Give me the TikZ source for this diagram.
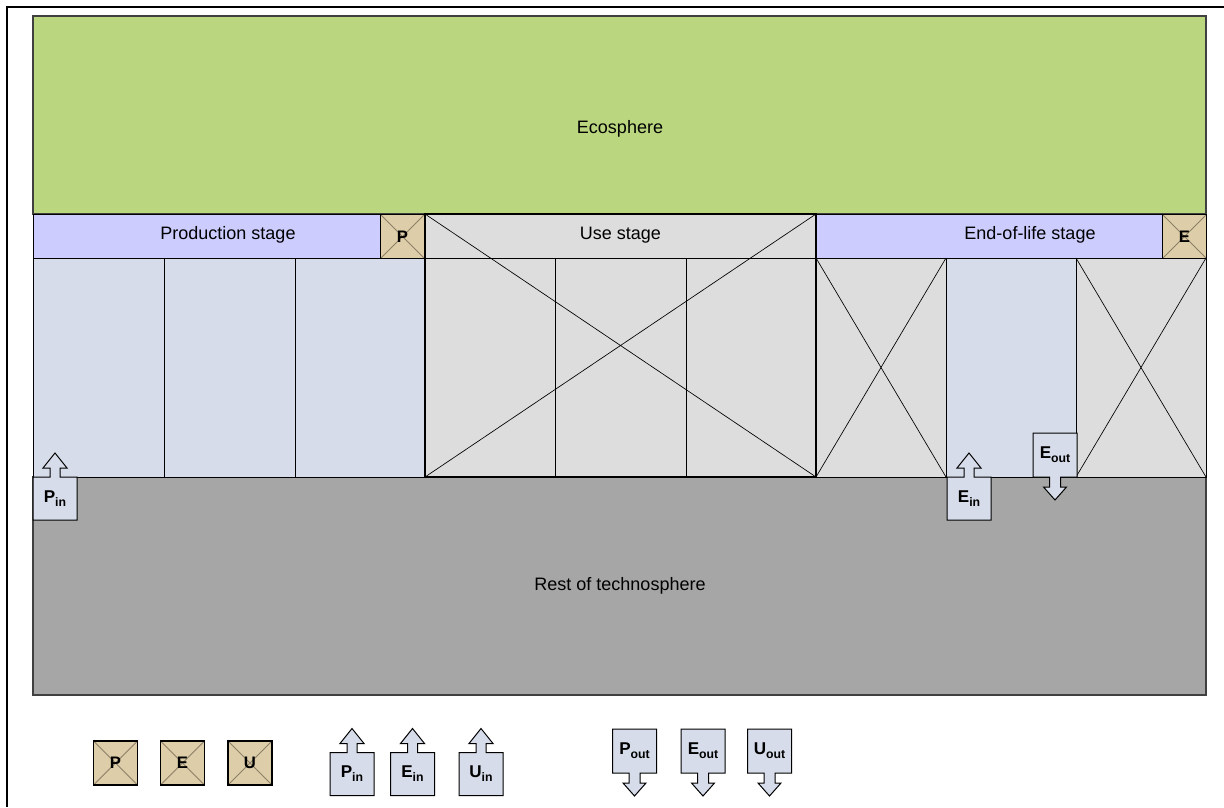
\documentclass[tikz,border=0pt]{standalone}
\usepackage{fontspec}
\setmainfont{Liberation Sans}
\usetikzlibrary{calc}

\definecolor{ecogreen}{RGB}{186,215,128}
\definecolor{stagehead}{RGB}{204,204,255}
\definecolor{flowblue}{RGB}{214,220,233}
\definecolor{usegray}{RGB}{221,221,221}
\definecolor{techgray}{RGB}{166,166,166}
\definecolor{tagtan}{RGB}{221,205,168}
\definecolor{crossline}{RGB}{140,128,105}

\tikzset{
  area/.style={draw=black!75, line width=0.8pt},
  cell/.style={draw=black, line width=0.75pt},
  xline/.style={draw=black, line width=0.5pt},
  tagbox/.style={draw=black, line width=1.1pt, fill=tagtan, inner sep=0pt,
    minimum size=33pt, font=\fontsize{12.5}{14}\selectfont\bfseries,
    path picture={\draw[crossline, line width=0.6pt]
      (path picture bounding box.north west) -- (path picture bounding box.south east)
      (path picture bounding box.north east) -- (path picture bounding box.south west);}},
  flowline/.style={draw=black, line width=0.75pt, fill=flowblue},
  flowlabel/.style={inner sep=0pt, font=\fontsize{12.8}{14}\selectfont\bfseries},
}

% block arrow boxes (name, centre, label)
\newcommand{\inflow}[3]{%
  \draw[flowline] ($(#2)+(-22,21.5)$) -- ++(0,-43) -- ++(17,0) -- ++(0,-9)
    -- ++(-7,0) -- ++(12,-15) -- ++(12,15) -- ++(-7,0) -- ++(0,9)
    -- ++(17,0) -- ++(0,43) -- cycle;
  \node[flowlabel] (#1) at (#2) {#3};}
\newcommand{\outflow}[3]{%
  \draw[flowline] ($(#2)+(-22,-22)$) -- ++(44,0) -- ++(0,44) -- ++(-16.5,0)
    -- ++(0,10) -- ++(6,0) -- ++(-11.5,13) -- ++(-11.5,-13) -- ++(6,0)
    -- ++(0,-10) -- ++(-16.5,0) -- cycle;
  \node[flowlabel] (#1) at (#2) {#3};}
\newcommand{\lbl}[2]{#1\raisebox{-0.45ex}{\fontsize{9.2}{10}\selectfont #2}}

\begin{document}
\begin{tikzpicture}[x=0.75pt, y=-0.75pt, font=\fontsize{13.5}{16}\selectfont]
  \useasboundingbox (0,0) rectangle (1224,807);

  % frame
  \draw[line width=1.6pt] (1224,7) -- (7,7) -- (7,807);

  % spheres
  \draw[area, fill=ecogreen] (33,16) rectangle (1206,214);
  \node (eco) at (620,129) {Ecosphere};
  \draw[area, fill=techgray] (33,477) rectangle (1206,695);
  \node (tech) at (620,586) {Rest of technosphere};

  % production stage
  \draw[cell, fill=stagehead] (33,214) rectangle (381,258);
  \node (prod) at (228,235) {Production stage};
  \foreach \xa/\xb in {33/164, 164/295, 295/425}
    \draw[cell, fill=flowblue] (\xa,258) rectangle (\xb,477);

  % use stage
  \draw[cell, fill=usegray] (425,214) rectangle (816,258);
  \foreach \xa/\xb in {425/555, 555/686, 686/816}
    \draw[cell, fill=usegray] (\xa,258) rectangle (\xb,477);
  \draw[line width=1.2pt] (425,214) rectangle (816,477);
  \draw[xline] (425,214) -- (816,477) (816,214) -- (425,477);
  \node (use) at (620.5,235) {Use stage};

  % end-of-life stage
  \draw[cell, fill=stagehead] (816,214) rectangle (1163,258);
  \node (eol) at (1030,235) {End-of-life stage};
  \draw[cell, fill=usegray] (816,258) rectangle (946,477);
  \draw[cell, fill=flowblue] (946,258) rectangle (1076,477);
  \draw[cell, fill=usegray] (1076,258) rectangle (1206,477);
  \draw[xline] (816,258) -- (946,477) (946,258) -- (816,477);
  \draw[xline] (1076,258) -- (1206,477) (1206,258) -- (1076,477);

  % stage tags
  \node[tagbox] (ptag) at (402.5,236.5) {P};
  \node[tagbox] (etag) at (1184.5,236.5) {E};

  % flows
  \inflow{pin}{55,498.5}{\lbl{P}{in}}
  \inflow{ein}{969,498.5}{\lbl{E}{in}}
  \outflow{eout}{1055,455}{\lbl{E}{out}}

  % legend
  \node[tagbox] (legp) at (115.5,763) {P};
  \node[tagbox] (lege) at (182.5,763) {E};
  \node[tagbox] (legu) at (250,763) {U};
  \inflow{legpin}{352,774}{\lbl{P}{in}}
  \inflow{legein}{412.5,774}{\lbl{E}{in}}
  \inflow{leguin}{481,774}{\lbl{U}{in}}
  \outflow{legpout}{634.5,751}{\lbl{P}{out}}
  \outflow{legeout}{703,751}{\lbl{E}{out}}
  \outflow{leguout}{769.5,751}{\lbl{U}{out}}
\end{tikzpicture}
\end{document}
